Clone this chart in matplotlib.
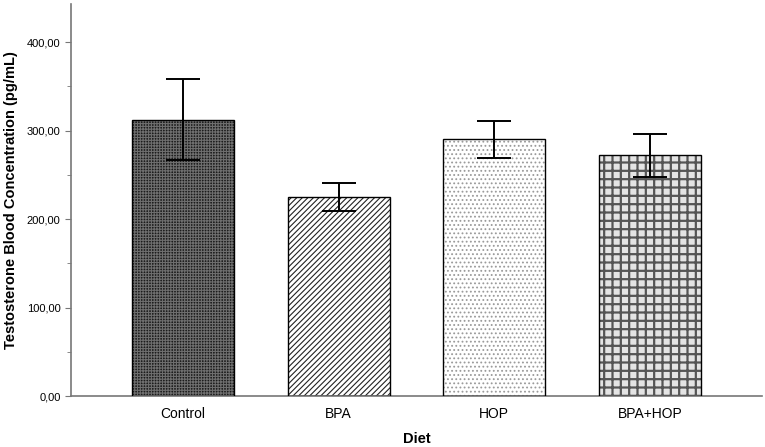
import matplotlib
matplotlib.use("Agg")
import matplotlib.pyplot as plt
import numpy as np
from matplotlib.ticker import FuncFormatter, MultipleLocator

# ── 数据 ──
diets = ["Control", "BPA", "HOP", "BPA+HOP"]
means = [312.0, 225.0, 290.0, 272.0]
err_lo = [45.0, 16.0, 21.0, 24.0]
err_hi = [46.0, 16.0, 21.0, 24.0]

# 每根柱子的填充样式
faces = ["#1c1c1c", "white", "white", "#e4e4e4"]
hatch_cols = ["#6e6e6e", "#222222", "#9a9a9a", "#555555"]
hatches = ["++++++", "//////", "....", "++"]
hatch_lw = [0.8, 0.8, 0.8, 1.6]

plt.rcParams['font.family'] = ['Liberation Sans', 'DejaVu Sans']

fig = plt.figure(figsize=(7.65, 4.47), dpi=100)
ax = fig.add_axes([71 / 765, 51 / 447, (762 - 71) / 765, (396 - 4) / 447])

x = np.arange(len(diets))
width = 0.655

# 先画填充（hatch 用 edgecolor），再画黑色边框
for i in range(len(diets)):
    plt.rcParams['hatch.linewidth'] = hatch_lw[i]
    ax.bar(x[i], means[i], width, color=faces[i], edgecolor=hatch_cols[i],
           hatch=hatches[i], linewidth=0, zorder=2)
ax.bar(x, means, width, fill=False, edgecolor="black", linewidth=1.0, zorder=3)

ax.errorbar(x, means, yerr=[err_lo, err_hi], fmt="none", ecolor="black",
            elinewidth=1.4, capsize=12, capthick=1.4, zorder=4)

ax.set_xlim(-0.72, 3.72)
ax.set_ylim(0, 443)
ax.yaxis.set_major_locator(MultipleLocator(100))
ax.yaxis.set_minor_locator(MultipleLocator(50))
ax.yaxis.set_major_formatter(FuncFormatter(lambda v, p: f"{v:.2f}".replace(".", ",")))

ax.set_xticks(x)
ax.set_xticklabels(diets, fontsize=10)
ax.tick_params(axis="x", length=0, pad=8)
ax.tick_params(axis="y", which="major", length=4, labelsize=8, color="#777777")
ax.tick_params(axis="y", which="minor", length=3, color="#777777")

for s in ["top", "right"]:
    ax.spines[s].set_visible(False)
for s in ["left", "bottom"]:
    ax.spines[s].set_color("#777777")
    ax.spines[s].set_linewidth(1.2)

ax.set_ylabel("Testosterone Blood Concentration (pg/mL)", fontsize=10.5,
              fontweight="bold", labelpad=6)
ax.set_xlabel("Diet", fontsize=10.5, fontweight="bold", labelpad=8)

fig.savefig("out.png", dpi=100)
